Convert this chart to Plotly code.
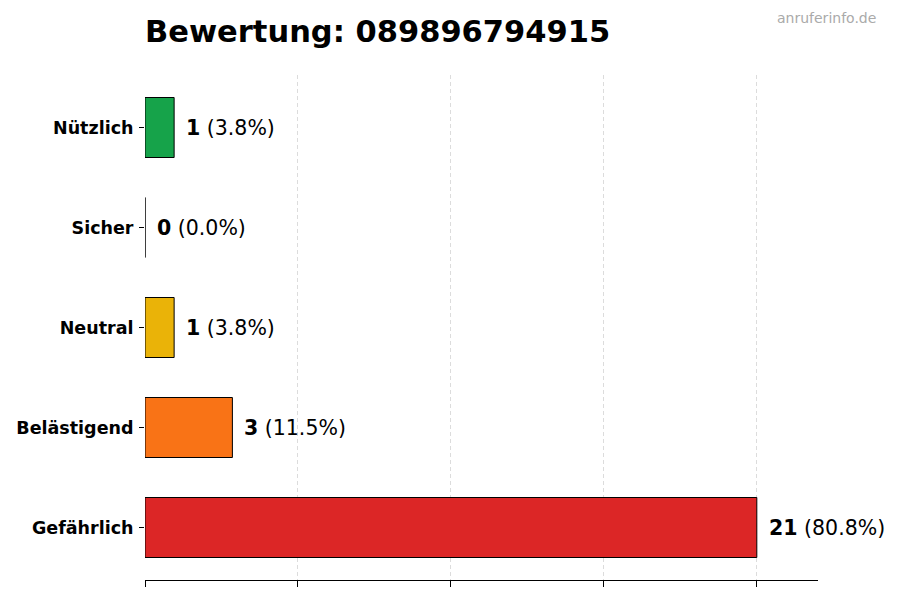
import plotly.graph_objects as go

categories = ["Gefährlich", "Belästigend", "Neutral", "Sicher", "Nützlich"]
counts = [21, 3, 1, 0, 1]
percents = [80.8, 11.5, 3.8, 0.0, 3.8]
colors = ["#dc2626", "#f97316", "#eab308", "#9ca3af", "#16a34a"]
title_text = "Bewertung: 089896794915"
watermark = "anruferinfo.de"

max_v = max(counts)
tick_vals = [max_v * i / 4 for i in range(5)]

fig = go.Figure()
fig.add_trace(go.Bar(
    x=counts, y=categories, orientation="h", width=0.6,
    marker=dict(color=colors, line=dict(color="black", width=1)),
    hoverinfo="skip",
))

for c, v, p in zip(categories, counts, percents):
    fig.add_annotation(
        x=v, y=c, xref="x", yref="y", xanchor="left", yanchor="middle",
        xshift=10, showarrow=False,
        text=f"<b>{v}</b> ({p:.1f}%)",
        font=dict(family="DejaVu Sans", size=20.5, color="black"),
    )

fig.add_annotation(
    x=1, y=1, xref="paper", yref="paper", xanchor="right", yanchor="top",
    xshift=60, yshift=67, showarrow=False, text=watermark,
    font=dict(family="DejaVu Sans", size=14, color="#aaaaaa"),
)

fig.update_layout(
    width=900, height=600,
    margin=dict(l=145, r=82, t=75, b=20),
    paper_bgcolor="white", plot_bgcolor="white",
    showlegend=False,
    title=dict(text=f"<b>{title_text}</b>", x=145/900, xanchor="left",
               y=1 - 31/600, yanchor="middle",
               font=dict(family="DejaVu Sans", size=30.5, color="black")),
    xaxis=dict(range=[0, max_v * 1.1], tickvals=tick_vals, showticklabels=False,
               ticks="outside", ticklen=6, tickcolor="black",
               showgrid=True, gridcolor="#dcdcdc", griddash="4px,3px", gridwidth=0.8,
               showline=True, linecolor="black", linewidth=1, zeroline=False),
    yaxis=dict(range=[-0.525, 4.525], ticks="outside", ticklen=5, tickcolor="black",
               showgrid=False, showline=False, zeroline=False,
               tickfont=dict(family="DejaVu Sans", size=17.5, color="black"),
               ticklabelstandoff=2),
)
fig.update_yaxes(tickvals=categories, ticktext=[f"<b>{c}</b>" for c in categories])

fig.write_html("out.html", config={"displayModeBar": False},
               post_script="document.body.style.margin='0';")
